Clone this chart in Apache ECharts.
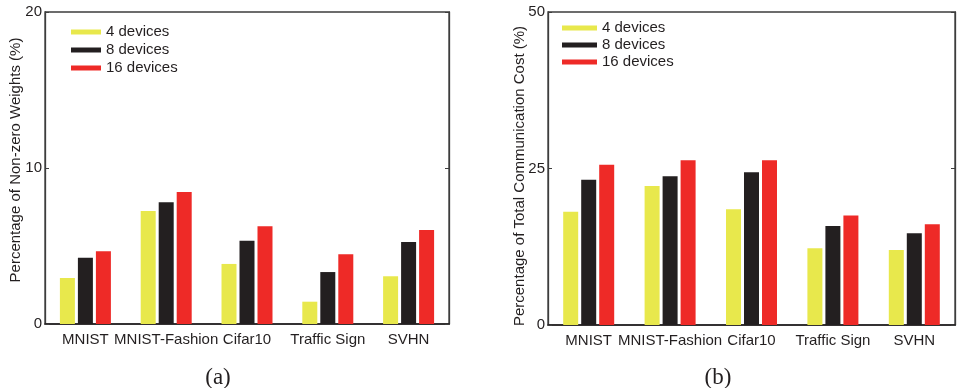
<!DOCTYPE html>
<html>
<head>
<meta charset="utf-8">
<script src="https://cdn.jsdelivr.net/npm/echarts@6/dist/echarts.min.js"></script>
<style>html,body{margin:0;padding:0;background:#fff;}#c{width:958px;height:388px;}</style>
</head>
<body>
<div id="c"></div>
<script>
var categories = ['MNIST', 'MNIST-Fashion', 'Cifar10', 'Traffic Sign', 'SVHN'];
var seriesNames = ['4 devices', '8 devices', '16 devices'];
// (a) Percentage of Non-zero Weights (%)
var weights4 = [2.95, 7.24, 3.85, 1.43, 3.06];
var weights8 = [4.25, 7.8, 5.34, 3.33, 5.26];
var weights16 = [4.66, 8.46, 6.26, 4.47, 6.03];
// (b) Percentage of Total Communication Cost (%)
var comm4 = [18.1, 22.2, 18.5, 12.25, 12.0];
var comm8 = [23.2, 23.75, 24.4, 15.8, 14.65];
var comm16 = [25.6, 26.3, 26.3, 17.5, 16.1];
var ticksA = [0, 10, 20];
var ticksB = [0, 25, 50];

var colors = ['#e8e84c', '#231f20', '#ee2a27'];
var FONT = 'Liberation Sans, Arial, sans-serif';
var SERIF = 'Liberation Serif, Times New Roman, serif';
var TXT = '#231f20';

function mkY(grid, max, interval, right) {
  return {
    type: 'value', gridIndex: grid, min: 0, max: max, interval: interval,
    position: right ? 'right' : 'left',
    axisLine: {show: true, lineStyle: {color: '#3d3d3d', width: 1.3}},
    axisTick: {show: true, inside: true, length: 4, lineStyle: {color: '#3d3d3d'}},
    axisLabel: {show: !right, margin: 3, fontSize: 15, fontFamily: FONT, color: TXT},
    splitLine: {show: false}
  };
}
function mkX(grid) {
  return {
    type: 'category', gridIndex: grid, data: categories,
    axisLine: {show: true, lineStyle: {color: '#231f20', width: 1.6}},
    axisTick: {show: false},
    axisLabel: {interval: 0, margin: 8, fontSize: 15, fontFamily: FONT, color: TXT}
  };
}
function mkS(name, data, xi, yi, idx) {
  return {
    type: 'bar', name: name, data: data, xAxisIndex: xi, yAxisIndex: yi,
    barWidth: 15, barGap: '20%', itemStyle: {color: colors[idx]}, silent: true, animation: false
  };
}

var chart = echarts.init(document.getElementById('c'), null, {renderer: 'canvas'});
chart.setOption({
  animation: false,
  color: colors,
  grid: [
    {left: 45, top: 12, width: 404, height: 312, show: true, borderColor: '#3d3d3d', borderWidth: 1.3, containLabel: false},
    {left: 548, top: 12, width: 407, height: 313, show: true, borderColor: '#3d3d3d', borderWidth: 1.3, containLabel: false}
  ],
  xAxis: [mkX(0), mkX(1)],
  yAxis: [mkY(0, ticksA[2], ticksA[1], false), mkY(0, ticksA[2], ticksA[1], true),
          mkY(1, ticksB[2], ticksB[1], false), mkY(1, ticksB[2], ticksB[1], true)],
  legend: [
    {data: seriesNames, orient: 'vertical', left: 66, top: 18, itemWidth: 30, itemHeight: 5, itemGap: 0, itemTextGap: 6, icon: 'rect',
     textStyle: {fontSize: 15, fontFamily: FONT, color: TXT, lineHeight: 18}, selectedMode: false},
    {data: seriesNames, orient: 'vertical', left: 557, top: 14.5, itemWidth: 35, itemHeight: 5, itemGap: 0, itemTextGap: 8, icon: 'rect',
     textStyle: {fontSize: 15, fontFamily: FONT, color: TXT, lineHeight: 17}, selectedMode: false}
  ],
  series: [
    mkS(seriesNames[0], weights4, 0, 0, 0), mkS(seriesNames[1], weights8, 0, 0, 1), mkS(seriesNames[2], weights16, 0, 0, 2),
    mkS(seriesNames[0], comm4, 1, 2, 0), mkS(seriesNames[1], comm8, 1, 2, 1), mkS(seriesNames[2], comm16, 1, 2, 2)
  ],
  graphic: [
    {type: 'text', x: 16, y: 160, rotation: Math.PI / 2, style: {text: 'Percentage of Non-zero Weights (%)', fontSize: 15, fontFamily: FONT, fill: TXT, align: 'center', verticalAlign: 'middle'}},
    {type: 'text', x: 520, y: 176, rotation: Math.PI / 2, style: {text: 'Percentage of Total Communication Cost (%)', fontSize: 15, fontFamily: FONT, fill: TXT, align: 'center', verticalAlign: 'middle'}},
    {type: 'text', x: 218, y: 378, style: {text: '(a)', fontSize: 23, fontFamily: SERIF, fill: TXT, align: 'center', verticalAlign: 'middle'}},
    {type: 'text', x: 718, y: 378, style: {text: '(b)', fontSize: 23, fontFamily: SERIF, fill: TXT, align: 'center', verticalAlign: 'middle'}}
  ]
});
</script>
</body>
</html>
